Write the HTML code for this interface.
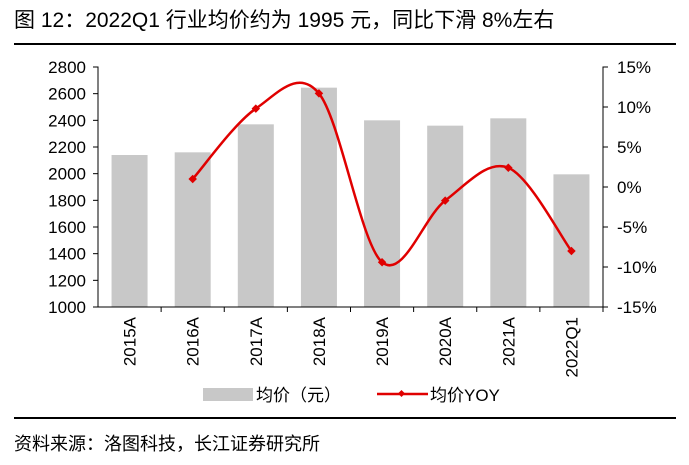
<!DOCTYPE html>
<html><head><meta charset="utf-8"><style>
body{margin:0;background:#fff;width:689px;height:460px;overflow:hidden;font-family:"Liberation Sans","Noto Sans CJK SC",sans-serif}
</style></head><body>
<svg width="689" height="460" xmlns="http://www.w3.org/2000/svg" font-family="Liberation Sans, Noto Sans CJK SC, sans-serif">
<text x="14" y="27" font-size="21" fill="#000">图 12：2022Q1 行业均价约为 1995 元，同比下滑 8%左右</text>
<line x1="14" y1="44" x2="676" y2="44" stroke="#000" stroke-width="2"/>
<g id="chart"></g>
<line x1="14" y1="418" x2="676" y2="418" stroke="#000" stroke-width="2"/>
<text x="14" y="450" font-size="18" fill="#000">资料来源：洛图科技，长江证券研究所</text>
<g>
<rect x="203" y="388" width="50" height="13" fill="#c8c8c8"/>
<text x="256" y="401" font-size="17">均价（元）</text>
<line x1="377" y1="394" x2="428" y2="394" stroke="#e00000" stroke-width="2.5"/>
<rect x="399" y="391" width="5" height="5" transform="rotate(45 401.5 393.5)" fill="#e00000"/>
<text x="430" y="401" font-size="17">均价YOY</text>
</g>
</svg>
<script>
const categories=["2015A","2016A","2017A","2018A","2019A","2020A","2021A","2022Q1"];
const prices=[2140,2160,2370,2645,2400,2360,2415,1995];
const yoy=[null,1.0,9.8,11.7,-9.4,-1.7,2.4,-8.0];
const leftTicks=[1000,1200,1400,1600,1800,2000,2200,2400,2600,2800];
const rightTicks=[-15,-10,-5,0,5,10,15];
const NS="http://www.w3.org/2000/svg";
const g=document.getElementById("chart");
const X0=98,X1=603,Y0=307,Y1=67;
const bw=(X1-X0)/categories.length;
const xc=i=>X0+bw*(i+0.5);
const yL=v=>Y0-(v-1000)/(2800-1000)*(Y0-Y1);
const yR=v=>Y0-(v+15)/30*(Y0-Y1);
function mk(t,a){const e=document.createElementNS(NS,t);for(const k in a)e.setAttribute(k,a[k]);g.appendChild(e);return e;}
prices.forEach((v,i)=>{
 const r=mk("rect",{x:xc(i)-18,y:yL(v),width:36,height:Y0-yL(v),fill:"#c8c8c8"});
 
 
});
let ax=mk("path",{d:`M${X0-5} ${Y1}H${X0}V${Y0}H${X1}V${Y1}H${X1+5}`,fill:"none",stroke:"#000","stroke-width":1});


leftTicks.forEach(v=>{
 mk("line",{x1:X0-5,x2:X0,y1:yL(v),y2:yL(v),stroke:"#000"});
 const t=mk("text",{x:X0-12,y:yL(v)+6,"font-size":17,"text-anchor":"end"});t.textContent=v;
 
 
});
rightTicks.forEach(v=>{
 mk("line",{x1:X1,x2:X1+5,y1:yR(v),y2:yR(v),stroke:"#000"});
 const t=mk("text",{x:X1+14,y:yR(v)+6,"font-size":17});t.textContent=v+"%";
 
 
});
categories.forEach((c,i)=>{
 mk("line",{x1:X0+bw*(i+1),x2:X0+bw*(i+1),y1:Y0,y2:Y0+5,stroke:"#000"});
 const t=mk("text",{x:0,y:0,"font-size":17,"text-anchor":"end",transform:`translate(${xc(i)+6},${Y0+10}) rotate(-90)`});t.textContent=c;
 
 
});
const pts=[];yoy.forEach((v,i)=>{if(v!==null)pts.push([xc(i),yR(v)]);});
let d=`M${pts[0][0]} ${pts[0][1]}`;
for(let i=0;i<pts.length-1;i++){
 const p0=pts[Math.max(i-1,0)],p1=pts[i],p2=pts[i+1],p3=pts[Math.min(i+2,pts.length-1)];
 const t=1/6;
 d+=`C${p1[0]+(p2[0]-p0[0])*t} ${p1[1]+(p2[1]-p0[1])*t} ${p2[0]-(p3[0]-p1[0])*t} ${p2[1]-(p3[1]-p1[1])*t} ${p2[0]} ${p2[1]}`;
}
const ln=mk("path",{d:d,fill:"none",stroke:"#e00000","stroke-width":2.5});


pts.forEach(p=>{
 const m=mk("rect",{x:p[0]-3,y:p[1]-3,width:6,height:6,fill:"#e00000",transform:`rotate(45 ${p[0]} ${p[1]})`});
 
 
});
</script>
</body></html>
